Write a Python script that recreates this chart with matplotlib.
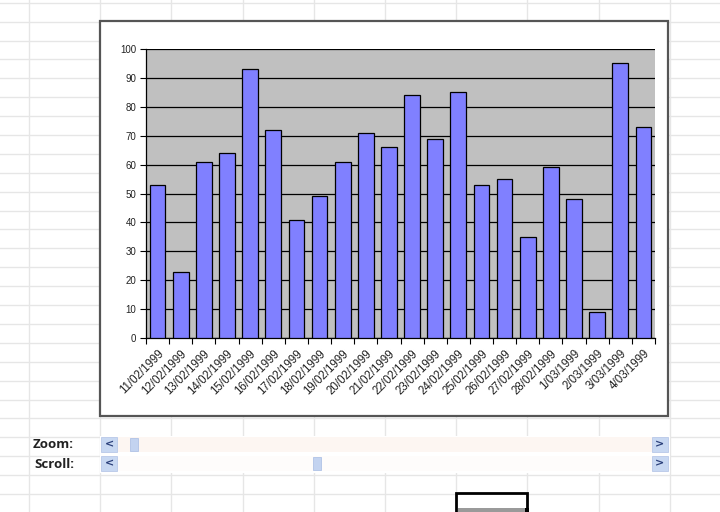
import matplotlib
matplotlib.use("Agg")
import matplotlib.pyplot as plt
from matplotlib.patches import Rectangle

dates = ["11/02/1999", "12/02/1999", "13/02/1999", "14/02/1999", "15/02/1999",
         "16/02/1999", "17/02/1999", "18/02/1999", "19/02/1999", "20/02/1999",
         "21/02/1999", "22/02/1999", "23/02/1999", "24/02/1999", "25/02/1999",
         "26/02/1999", "27/02/1999", "28/02/1999", "1/03/1999", "2/03/1999",
         "3/03/1999", "4/03/1999"]
values = [53, 23, 61, 64, 93, 72, 41, 49, 61, 71, 66, 84, 69, 85, 53, 55, 35,
          59, 48, 9, 95, 73]
y_ticks = list(range(0, 101, 10))

W, H = 720, 512
fig = plt.figure(figsize=(7.2, 5.12), dpi=100)
fig.patch.set_facecolor("white")

bg = fig.add_axes([0, 0, 1, 1])
bg.set_xlim(0, W)
bg.set_ylim(H, 0)
bg.axis("off")

# spreadsheet grid
grid_c = "#e6e6e6"
for k in range(28):
    y = 2.7 + 18.9 * k
    bg.plot([0, W], [y, y], color=grid_c, lw=1, zorder=1)
for k in range(11):
    x = 29 + 71.2 * k
    bg.plot([x, x], [0, H], color=grid_c, lw=1, zorder=1)

# chart area
bg.add_patch(Rectangle((100, 21), 568, 395, facecolor="white",
                       edgecolor="#555555", lw=1.6, zorder=3))

# controls area
bg.add_patch(Rectangle((100, 435.5), 570, 37, facecolor="white",
                       edgecolor="none", zorder=3))
bg.add_patch(Rectangle((118, 437), 534, 15, facecolor="#fdf6f2",
                       edgecolor="none", zorder=4))
bg.add_patch(Rectangle((118, 456), 534, 15, facecolor="#fefcfb",
                       edgecolor="none", zorder=4))
btn_c = "#c8d8f2"
for (x, y, g) in [(101, 437, "<"), (101, 456, "<"), (652, 437, ">"), (652, 456, ">")]:
    bg.add_patch(Rectangle((x, y), 16, 15, facecolor=btn_c, edgecolor="#b8c8e8",
                           lw=0.6, zorder=5))
    bg.text(x + 8, y + 7.5, g, ha="center", va="center", fontsize=8,
            fontweight="bold", color="#2a3f7a", zorder=6,
            family="DejaVu Sans")
bg.add_patch(Rectangle((130, 438), 8, 13, facecolor="#c3d3f0", edgecolor="#b0c2e6",
                       lw=0.6, zorder=5))
bg.add_patch(Rectangle((313, 457), 8, 13, facecolor="#c3d3f0", edgecolor="#b0c2e6",
                       lw=0.6, zorder=5))
bg.text(33, 445, "Zoom:", ha="left", va="center", fontsize=9.5,
        fontweight="bold", color="#222222", family="Open Sans", zorder=6)
bg.text(34, 464, "Scroll:", ha="left", va="center", fontsize=9.5,
        fontweight="bold", color="#222222", family="Open Sans", zorder=6)

# selected cell
bg.add_patch(Rectangle((456, 493), 71, 25, facecolor="white", edgecolor="black",
                       lw=2, zorder=5))
bg.add_patch(Rectangle((458, 508), 67, 6, facecolor="#9a9a9a", edgecolor="none",
                       zorder=6))
bg.add_patch(Rectangle((525, 508), 4, 5, facecolor="black", edgecolor="none",
                       zorder=7))

# plot
ax = fig.add_axes([146 / W, 1 - 338 / H, (655 - 146) / W, (338 - 49) / H])
ax.set_zorder(10)
ax.set_facecolor("#c0c0c0")
x = list(range(len(values)))
ax.bar(x, values, width=0.68, color="#8080ff", edgecolor="black", lw=0.9,
       zorder=3)
ax.set_xlim(-0.5, len(values) - 0.5)
ax.set_ylim(0, 100)
ax.set_yticks(y_ticks)
ax.yaxis.grid(True, color="black", lw=0.9, zorder=1)
ax.set_axisbelow(True)
ax.set_xticks(x)
ax.set_xticklabels(dates, rotation=45, ha="right", va="top",
                   rotation_mode="anchor", fontsize=8.3, family="Liberation Sans",
                   color="#222222")
ax.set_xticks([i - 0.5 for i in range(len(values) + 1)], minor=True)
ax.tick_params(axis="x", which="major", length=0, pad=7)
ax.tick_params(axis="x", which="minor", length=4, width=0.8, direction="out")
ax.tick_params(axis="y", length=4, width=0.8, direction="out", pad=3,
               labelsize=7, labelcolor="#222222")
for lab in ax.get_yticklabels():
    lab.set_family("Liberation Sans")
for side in ["top", "right"]:
    ax.spines[side].set_visible(False)
ax.spines["left"].set_color("black")
ax.spines["bottom"].set_color("black")
ax.spines["left"].set_linewidth(0.9)
ax.spines["bottom"].set_linewidth(0.9)

fig.savefig("out.png", dpi=100)
